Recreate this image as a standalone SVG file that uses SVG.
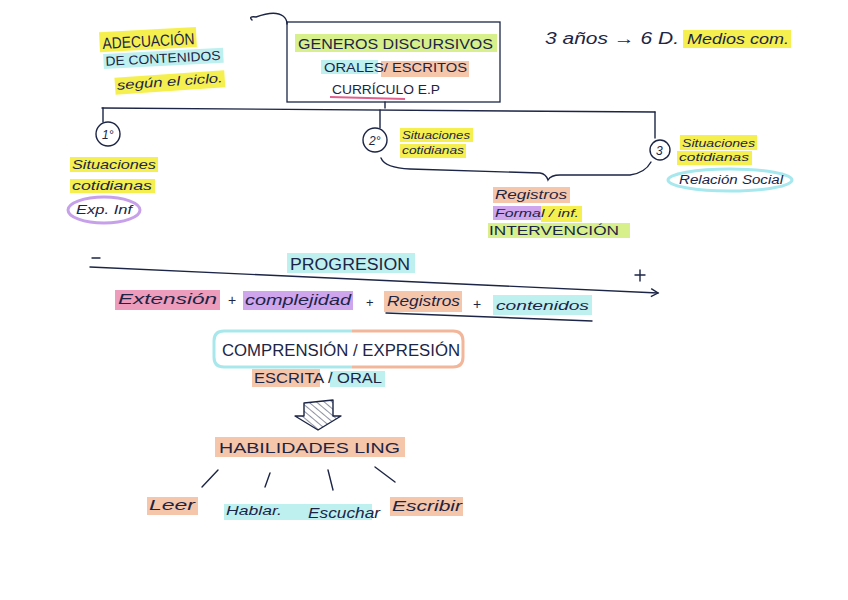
<svg xmlns="http://www.w3.org/2000/svg" width="848" height="600" viewBox="0 0 848 600">
<defs>
<style>
.t{font-family:"Liberation Sans",Arial,sans-serif;fill:#1c2545}
.h{font-family:"Liberation Sans",Arial,sans-serif;fill:#1c2545;font-style:italic}
.ln{fill:none;stroke:#1c2545;stroke-width:1.4;stroke-linecap:round}
.y{fill:#f4ee3c;opacity:.9}
.c{fill:#bff0f0}
.s{fill:#f6c6aa}
.g{fill:#d8f08c}
.p{fill:#ee9cbc}
.v{fill:#cfa6ee}
</style>
<pattern id="hatch" width="5" height="5" patternUnits="userSpaceOnUse" patternTransform="rotate(-50)">
<line x1="0" y1="0" x2="0" y2="5" stroke="#1c2545" stroke-width="1"/>
</pattern>
<marker id="chev" markerWidth="10" markerHeight="10" refX="8" refY="5" orient="auto" markerUnits="userSpaceOnUse">
<path d="M1,1 L8,5 L1,9" fill="none" stroke="#1c2545" stroke-width="1.4"/>
</marker>
</defs>
<rect width="848" height="600" fill="#ffffff"/>

<g id="adecuacion">
<g transform="rotate(-3 160 50)">
<rect class="y" x="100" y="29" width="97" height="20"/>
<text class="t" x="103" y="46" font-size="16" textLength="92" lengthAdjust="spacingAndGlyphs">ADECUACIÓN</text>
<rect class="c" x="103" y="51" width="120" height="15"/>
<text class="t" x="105" y="63" font-size="13" textLength="115" lengthAdjust="spacingAndGlyphs">DE CONTENIDOS</text>
</g>
<rect class="y" x="115" y="74" width="110" height="17" transform="rotate(-4 170 84)"/>
<text class="h" x="117" y="86" font-size="13" textLength="106" lengthAdjust="spacingAndGlyphs" transform="rotate(-4 170 84)">según el ciclo.</text>
</g>

<g id="generos">
<path class="ln" d="M252,20 Q248,16 256,17 Q275,10 283,16 Q287,19 287,24"/>
<rect x="287" y="22" width="213" height="80" fill="none" stroke="#1c2545" stroke-width="1.3"/>
<rect class="g" x="295" y="34" width="202" height="18"/>
<text class="t" x="298" y="49" font-size="15" textLength="195" lengthAdjust="spacingAndGlyphs">GENEROS DISCURSIVOS</text>
<rect class="c" x="321" y="60" width="57" height="14"/>
<rect class="s" x="381" y="61" width="88" height="16"/>
<text class="t" x="324" y="72" font-size="13" textLength="143" lengthAdjust="spacingAndGlyphs">ORALES/ ESCRITOS</text>
<text class="t" x="332" y="94" font-size="13" textLength="108" lengthAdjust="spacingAndGlyphs">CURRÍCULO E.P</text>
<path d="M330,97 L405,99" stroke="#e0608e" stroke-width="2.2" fill="none"/>
</g>

<g id="medios">
<text class="h" x="545" y="44" font-size="16" textLength="134" lengthAdjust="spacingAndGlyphs">3 años → 6 D.</text>
<rect class="y" x="683" y="30" width="108" height="18"/>
<text class="h" x="687" y="44" font-size="15" textLength="102" lengthAdjust="spacingAndGlyphs">Medios com.</text>
</g>

<g id="connectors">
<path class="ln" d="M385,102 L385,108"/>
<path class="ln" d="M102,108 L655,112"/>
<path class="ln" d="M103,108 L103,122"/>
<path class="ln" d="M380,110 L380,128"/>
<path class="ln" d="M655,112 L655,138"/>
<path class="ln" d="M381,158 Q385,168 410,169 L540,173 Q546,174 548,180 Q551,175 560,175 L630,175 Q645,173 651,162"/>
<path class="ln" d="M202,487 L218,470"/>
<path class="ln" d="M265,487 L270,473"/>
<path class="ln" d="M328,470 L333,490"/>
<path class="ln" d="M375,467 L395,482"/>
</g>

<g id="n1">
<circle cx="108" cy="134" r="12" class="ln"/>
<text class="h" x="102" y="139" font-size="12">1°</text>
<rect class="y" x="70" y="157" width="88" height="15"/>
<text class="h" x="72" y="169" font-size="13" textLength="84" lengthAdjust="spacingAndGlyphs">Situaciones</text>
<rect class="y" x="70" y="179" width="85" height="14"/>
<text class="h" x="72" y="190" font-size="13" textLength="80" lengthAdjust="spacingAndGlyphs">cotidianas</text>
<ellipse cx="104" cy="210" rx="36" ry="13" fill="none" stroke="#c7a0ea" stroke-width="3"/>
<text class="h" x="76" y="214" font-size="13" textLength="56" lengthAdjust="spacingAndGlyphs">Exp. Inf</text>
</g>

<g id="n2">
<circle cx="375" cy="140" r="12" class="ln"/>
<text class="h" x="369" y="145" font-size="12">2°</text>
<rect class="y" x="400" y="128" width="73" height="14"/>
<text class="h" x="402" y="139" font-size="11" textLength="68" lengthAdjust="spacingAndGlyphs">Situaciones</text>
<rect class="y" x="400" y="144" width="66" height="14"/>
<text class="h" x="402" y="154" font-size="11" textLength="62" lengthAdjust="spacingAndGlyphs">cotidianas</text>
</g>

<g id="n3">
<circle cx="660" cy="150" r="10" class="ln"/>
<text class="h" x="656" y="155" font-size="12">3</text>
<rect class="y" x="680" y="135" width="77" height="15"/>
<text class="h" x="682" y="147" font-size="11" textLength="73" lengthAdjust="spacingAndGlyphs">Situaciones</text>
<rect class="y" x="677" y="151" width="75" height="14"/>
<text class="h" x="679" y="161" font-size="11" textLength="70" lengthAdjust="spacingAndGlyphs">cotidianas</text>
<ellipse cx="730" cy="180" rx="62" ry="11" fill="none" stroke="#a6e8ee" stroke-width="3"/>
<text class="h" x="679" y="184" font-size="12" textLength="104" lengthAdjust="spacingAndGlyphs">Relación Social</text>
</g>

<g id="registros">
<rect class="s" x="493" y="187" width="77" height="16"/>
<text class="h" x="495" y="199" font-size="12" textLength="72" lengthAdjust="spacingAndGlyphs">Registros</text>
<rect class="v" x="493" y="206" width="48" height="14"/>
<rect class="y" x="541" y="206" width="41" height="16"/>
<text class="h" x="495" y="217" font-size="11" textLength="84" lengthAdjust="spacingAndGlyphs">Formal / inf.</text>
<rect class="g" x="488" y="223" width="142" height="15"/>
<text class="t" x="489" y="235" font-size="13" textLength="130" lengthAdjust="spacingAndGlyphs">INTERVENCIÓN</text>
</g>

<g id="progresion">
<path class="ln" d="M92,258 L100,258"/>
<rect class="c" x="287" y="253" width="128" height="20"/>
<text class="t" x="290" y="270" font-size="16" textLength="120" lengthAdjust="spacingAndGlyphs">PROGRESION</text>
<path class="ln" d="M90,267 L658,293" marker-end="url(#chev)"/>
<path class="ln" d="M640,270 L640,281 M635,275 L645,275"/>
<rect class="p" x="115" y="290" width="105" height="20"/>
<text class="h" x="118" y="304" font-size="14" textLength="99" lengthAdjust="spacingAndGlyphs">Extensión</text>
<text class="t" x="228" y="305" font-size="14">+</text>
<rect class="v" x="243" y="291" width="110" height="19"/>
<text class="h" x="245" y="305" font-size="14" textLength="106" lengthAdjust="spacingAndGlyphs">complejidad</text>
<text class="t" x="366" y="307" font-size="13">+</text>
<rect class="s" x="384" y="291" width="78" height="21"/>
<text class="h" x="387" y="306" font-size="14" textLength="73" lengthAdjust="spacingAndGlyphs">Registros</text>
<text class="t" x="473" y="309" font-size="14">+</text>
<rect class="c" x="493" y="295" width="99" height="20"/>
<text class="h" x="496" y="310" font-size="13" textLength="93" lengthAdjust="spacingAndGlyphs">contenidos</text>
<path class="ln" d="M386,313 L592,321"/>
</g>

<g id="comprension">
<path d="M352,331 L224,331 Q214,331 214,341 L214,357 Q214,367 224,367 L352,367" fill="none" stroke="#a8e8ec" stroke-width="3"/>
<path d="M352,331 L453,331 Q463,331 463,341 L463,357 Q463,367 453,367 L352,367" fill="none" stroke="#f2b79a" stroke-width="3"/>
<text class="t" x="222" y="356" font-size="16" textLength="238" lengthAdjust="spacingAndGlyphs">COMPRENSIÓN / EXPRESIÓN</text>
<rect class="s" x="252" y="369" width="68" height="18"/>
<rect class="c" x="330" y="371" width="55" height="16"/>
<text class="t" x="254" y="383" font-size="14" textLength="128" lengthAdjust="spacingAndGlyphs">ESCRITA / ORAL</text>
</g>

<g id="flecha">
<path d="M304,403 L333,400 L333,416 L341,416 L318,430 L295,416 L304,416 Z" fill="url(#hatch)" stroke="#1c2545" stroke-width="1.4" stroke-linejoin="round"/>
</g>

<g id="habilidades">
<rect class="s" x="215" y="437" width="190" height="20"/>
<text class="t" x="219" y="453" font-size="15" textLength="181" lengthAdjust="spacingAndGlyphs">HABILIDADES LING</text>
</g>

<g id="leer">
<rect class="s" x="147" y="497" width="51" height="18"/>
<text class="h" x="149" y="510" font-size="14" textLength="46" lengthAdjust="spacingAndGlyphs">Leer</text>
</g>
<g id="hablar">
<rect class="c" x="224" y="504" width="148" height="16"/>
<text class="h" x="226" y="515" font-size="13" textLength="56" lengthAdjust="spacingAndGlyphs">Hablar.</text>
</g>
<g id="escuchar">
<text class="h" x="308" y="518" font-size="14" textLength="72" lengthAdjust="spacingAndGlyphs">Escuchar</text>
</g>
<g id="escribir">
<rect class="s" x="390" y="497" width="73" height="19"/>
<text class="h" x="392" y="511" font-size="14" textLength="70" lengthAdjust="spacingAndGlyphs">Escribir</text>
</g>
</svg>
